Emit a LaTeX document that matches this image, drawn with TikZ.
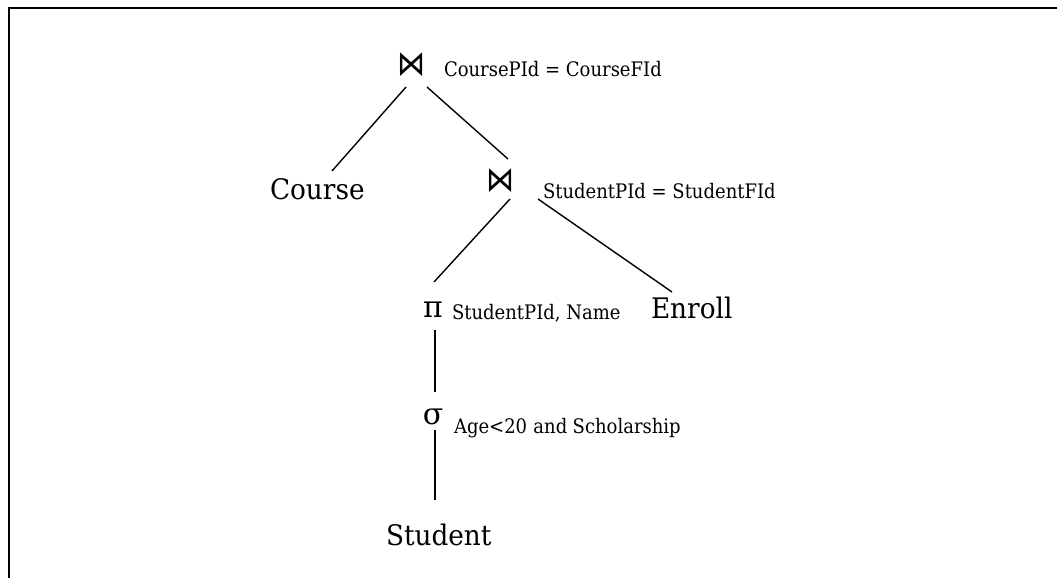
\documentclass[tikz,border=0pt]{standalone}
\usepackage{fontspec}
\usepackage{graphicx}
\setmainfont{DejaVu Serif}
\newfontfamily\opfont{DejaVu Sans}
\usetikzlibrary{calc}
% slightly condensed setting of the serif text
\newcommand{\narrowtext}[1]{\scalebox{0.93}[1]{#1}}
\newcommand{\condtext}[1]{\scalebox{0.9}[1]{#1}}
\newcommand{\joinop}{\scalebox{0.85}[1.05]{⋈}}

\begin{document}
\begin{tikzpicture}[x=1pt,y=-1pt,
  every node/.style={inner sep=0pt, outer sep=0pt},
  relname/.style={font=\fontsize{28.3}{33}\selectfont, anchor=base west},
  cond/.style={font=\fontsize{20}{24}\selectfont, anchor=base west},
  opsym/.style={font=\fontsize{30}{35}\selectfont},
  joinsym/.style={font=\opfont\fontsize{33}{38}\selectfont},
  edge/.style={line width=1.4pt},
  frameline/.style={line width=2pt}]
\useasboundingbox (0,0) rectangle (1057,578);
\draw[frameline] (9,640) -- (9,8) -- (1100,8);

% operators and their conditions
\node[joinsym] (j1) at (412,65) {\joinop};
\node[cond] (j1lab) at (444,77) {\condtext{CoursePId = CourseFId}};
\node[joinsym] (j2) at (501,181) {\joinop};
\node[cond] (j2lab) at (543,198) {\condtext{StudentPId = StudentFId}};
\node[opsym] (pi) at (433,310) {π};
\node[cond] (pilab) at (452,319) {\condtext{StudentPId, Name}};
\node[opsym] (sigma) at (433,417) {σ};
\node[cond] (siglab) at (454,433) {\condtext{Age<20\hspace{0.35em}and\hspace{0.3em}Scholarship}};

% relations
\node[relname] (course) at (270,199) {\narrowtext{Course}};
\node[relname] (enroll) at (651,318) {\narrowtext{Enroll}};
\node[relname] (student) at (386,545) {\narrowtext{Student}};

% tree edges
\draw[edge] ([shift={(-6,22)}]j1.center) -- ([shift={(62,-28)}]course.base west);
\draw[edge] ([shift={(15,22)}]j1.center) -- ([shift={(7,-22)}]j2.center);
\draw[edge] ([shift={(9,18)}]j2.center) -- ([shift={(1,-28)}]pi.center);
\draw[edge] ([shift={(37,18)}]j2.center) -- ([shift={(21,-26)}]enroll.base west);
\draw[edge] ([shift={(2,20)}]pi.center) -- ([shift={(2,-25)}]sigma.center);
\draw[edge] ([shift={(2,13)}]sigma.center) -- ([shift={(49,-45)}]student.base west);
\end{tikzpicture}
\end{document}
